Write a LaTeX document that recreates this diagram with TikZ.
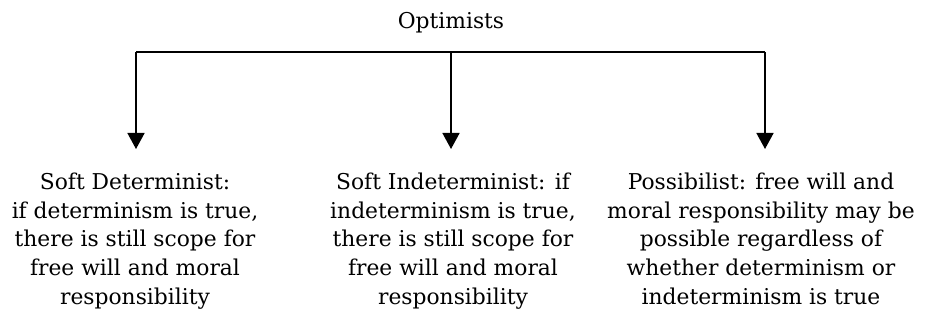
\documentclass[tikz,border=0pt]{standalone}
\usepackage{fontspec}
\setmainfont{DejaVu Serif}
\usetikzlibrary{arrows.meta}
\begin{document}
\begin{tikzpicture}[x=1pt,y=-1pt,
  label/.style={font=\fontsize{21.8}{28.6}\selectfont, align=center, inner sep=0pt},
  branch/.style={line width=1.6pt, -{Triangle[length=16pt,width=17pt]}},
  bar/.style={line width=1.6pt}]
  \useasboundingbox (0,0) rectangle (928,328);
  % root label
  \node[label, anchor=base] (opt) at (451,29) {Optimists};
  % horizontal bar and its three drop points
  \coordinate (jl) at (136,52);
  \coordinate (jm) at (451,52);
  \coordinate (jr) at (765,52);
  \coordinate (tl) at (136,149);
  \coordinate (tm) at (451,149);
  \coordinate (tr) at (765,149);
  \draw[bar] (jl) -- (jr);
  % leaf labels
  \node[label, anchor=north] (soft) at (135,173) {Soft Determinist:\\if determinism is true,\\there is still scope for\\free will and moral\\responsibility};
  \node[label, anchor=north] (indet) at (453,173) {Soft Indeterminist: if\\indeterminism is true,\\there is still scope for\\free will and moral\\responsibility};
  \node[label, anchor=north] (poss) at (761,173) {Possibilist: free will and\\moral responsibility may be\\possible regardless of\\whether determinism or\\indeterminism is true};
  % arrows down to each position
  \draw[branch] (jl) -- (tl);
  \draw[branch] (jm) -- (tm);
  \draw[branch] (jr) -- (tr);
\end{tikzpicture}
\end{document}
